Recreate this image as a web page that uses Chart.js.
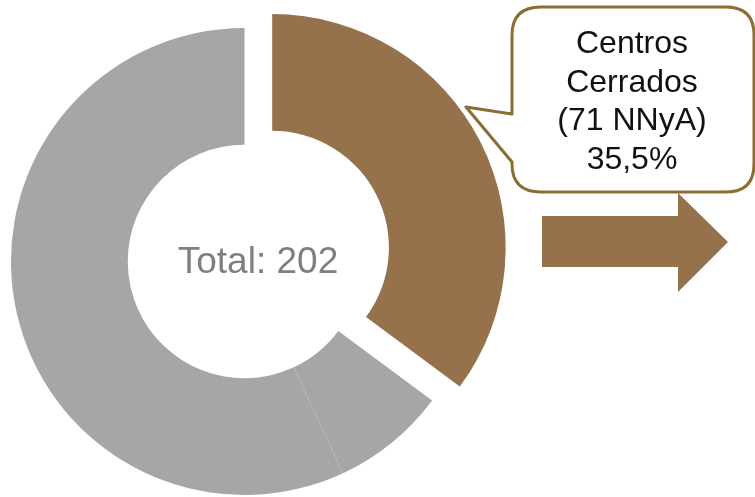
<!DOCTYPE html>
<html lang="es">
<head>
    <meta charset="UTF-8">
    <title>Centros Cerrados</title>
    <script src="https://cdn.jsdelivr.net/npm/chart.js@4/dist/chart.umd.min.js"></script>
    <style>
        body { margin: 0; background: #fff; font-family: "Liberation Sans", sans-serif; }
        .wrap { position: relative; width: 755px; height: 497px; overflow: hidden; }
        #chart { position: absolute; left: 0; top: 0; }
        .total { position: absolute; left: 143px; width: 230px; top: 242px; text-align: center;
                 font-size: 37px; line-height: 37px; color: #7f7f7f; }
        .bubble-text { position: absolute; left: 512px; width: 240px; top: 23px; text-align: center;
                       font-size: 32px; line-height: 38.5px; color: #111; }
        svg { position: absolute; left: 0; top: 0; }
    </style>
</head>
<body>
<div class="wrap">
    <canvas id="chart" width="755" height="497"></canvas>
    <div class="total" id="total"></div>
    <svg width="755" height="497">
        <!-- flecha -->
        <polygon points="542,216 678,216 678,193 728,242 678,292 678,267 542,267" fill="#95724c"/>
        <!-- globo -->
        <path d="M 541 7 L 726 7 Q 754 7 754 35 L 754 164 Q 754 192 726 192 L 541 192 Q 512 192 512 164 L 512 162 L 466 107 L 512 114 L 512 35 Q 512 7 541 7 Z"
              fill="#fff" stroke="#8c6d33" stroke-width="3" stroke-linejoin="round"/>
    </svg>
    <div class="bubble-text" id="label"></div>
</div>
<script>
    const categories = ['Centros Cerrados', 'Otros 1', 'Otros 2']
    const values = [71, 16, 115]
    const colors = ['#95724c', '#a6a6a6', '#a6a6a6']
    const explodeDist = [31, 0, 0]
    const labelLines = ['Centros', 'Cerrados', '(71 NNyA)', '35,5%']

    const total = values.reduce((a, b) => a + b, 0)
    document.getElementById('total').textContent = `Total: ${total}`
    document.getElementById('label').innerHTML = labelLines.join('<br>')

    // desplaza la porción sin cambiar su radio (el offset de Chart.js también agranda el arco)
    const explode = {
        id: 'explode',
        afterDatasetsUpdate(chart) {
            chart.getDatasetMeta(0).data.forEach((arc, i) => {
                const d = explodeDist[i]
                if (!d) return
                const mid = (arc.startAngle + arc.endAngle) / 2
                arc.x += Math.cos(mid) * d
                arc.y += Math.sin(mid) * d
            })
        }
    }

    new Chart(document.getElementById('chart'), {
        type: 'doughnut',
        data: {
            labels: categories,
            datasets: [{
                data: values,
                backgroundColor: colors,
                borderWidth: 0,
                hoverOffset: 0,
                clip: false,
            }],
        },
        options: {
            responsive: false,
            animation: false,
            events: [],
            cutout: '50%',
            radius: 233.5,
            layout: { padding: { left: 0, right: 266, top: 26, bottom: 0 } },
            plugins: { legend: { display: false }, tooltip: { enabled: false } },
        },
        plugins: [explode],
    })
</script>
</body>
</html>
